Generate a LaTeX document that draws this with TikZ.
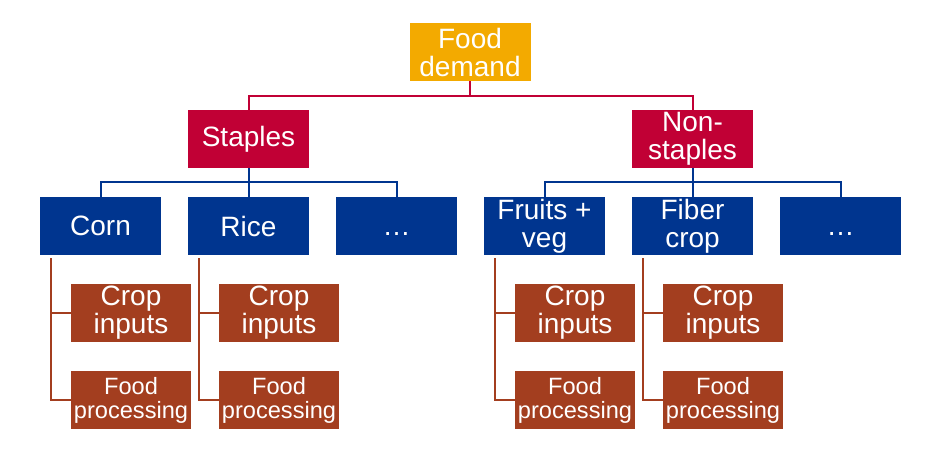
\documentclass[tikz,border=0pt]{standalone}
\usepackage{fontspec}
\setmainfont{Liberation Sans}
\definecolor{demandgold}{HTML}{F3AA00}
\definecolor{groupred}{HTML}{C10035}
\definecolor{cropblue}{HTML}{00358F}
\definecolor{stagebrown}{HTML}{A33E1F}
\tikzset{
  box/.style={minimum width=60.5pt, minimum height=29pt, inner sep=0pt,
    text=white, align=center, font=\fontsize{14}{14}\selectfont},
  demandbox/.style={box, fill=demandgold},
  groupbox/.style={box, fill=groupred},
  cropbox/.style={box, fill=cropblue},
  stagebox/.style={box, fill=stagebrown, minimum width=60pt},
  smallstage/.style={stagebox, font=\fontsize{11.8}{12}\selectfont},
  redline/.style={groupred, line width=1pt},
  blueline/.style={cropblue, line width=1pt},
  brownline/.style={stagebrown, line width=1pt},
}
\begin{document}
\begin{tikzpicture}[x=0.5pt,y=-0.5pt]
    \useasboundingbox (0,0) rectangle (936,468);

    % top levels
    \node[demandbox] (food) at (470,52) {Food\\demand};
    \node[groupbox] (staples) at (248.5,139) {Staples};
    \node[groupbox] (nonstaples) at (692.5,139) {Non-\\staples};

    \draw[redline] (food.south) -- ++(0,15) -| (staples.north);
    \draw[redline] (food.south) -- ++(0,15) -| (nonstaples.north);

    % crops
    \node[cropbox] (corn) at (100.5,226) {Corn};
    \node[cropbox] (rice) at (248.5,226) {Rice};
    \node[cropbox] (moreA) at (396.5,226) {\vphantom{C}…};
    \node[cropbox] (fruits) at (544.5,226) {Fruits +\\veg};
    \node[cropbox] (fiber) at (692.5,226) {Fiber\\crop};
    \node[cropbox] (moreB) at (840.5,226) {\vphantom{C}…};

    \foreach \c in {corn,rice,moreA}
        \draw[blueline] (staples.south) -- ++(0,14) -| (\c.north);
    \foreach \c in {fruits,fiber,moreB}
        \draw[blueline] (nonstaples.south) -- ++(0,14) -| (\c.north);

    % stages under each crop
    \foreach \c/\x in {corn/131,rice/279,fruits/575,fiber/723}{
        \node[stagebox] (\c-inputs) at (\x,313) {Crop\\inputs};
        \node[smallstage] (\c-proc) at (\x,400) {Food\\processing};
        \coordinate (\c-stem) at ([xshift=5.5pt,yshift=-1.5pt]\c.south west);
        \draw[brownline] (\c-stem) |- (\c-inputs.west);
        \draw[brownline] (\c-stem) |- (\c-proc.west);
    }
\end{tikzpicture}
\end{document}
